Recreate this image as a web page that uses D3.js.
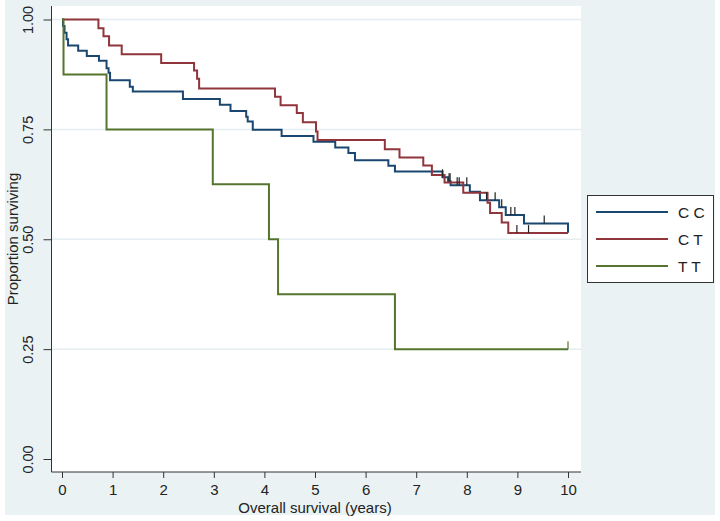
<!DOCTYPE html>
<html>
<head>
<meta charset="utf-8">
<script src="https://cdn.jsdelivr.net/npm/d3@7"></script>
<style>
  body { margin: 0; background: #fff; }
  svg { display: block; font-family: "Liberation Sans", Arial, sans-serif; }
</style>
</head>
<body>
<div id="chart"></div>
<script>
// Kaplan-Meier steps: event times (years) and survival after each event
const groups = ["C C", "C T", "T T"];
const colors = ["#1a476f", "#90353b", "#55752f"];

const ccTimes = [0.02, 0.05, 0.09, 0.12, 0.32, 0.49, 0.73, 0.88, 0.92, 0.95, 1.34, 1.40, 2.39, 3.12, 3.33,
                 3.64, 3.67, 3.77, 4.34, 4.97, 5.40, 5.66, 5.79, 6.45, 6.58, 7.52, 7.63, 7.68, 8.06, 8.26,
                 8.64, 8.77, 9.13, 10.0];
const ccSurv  = [0.985, 0.970, 0.955, 0.941, 0.929, 0.917, 0.906, 0.889, 0.879, 0.862, 0.847, 0.836, 0.819, 0.806, 0.792,
                 0.779, 0.768, 0.749, 0.735, 0.722, 0.709, 0.696, 0.680, 0.667, 0.654, 0.641, 0.632, 0.623, 0.608, 0.589,
                 0.573, 0.555, 0.536, 0.515];
const ctTimes = [0.72, 0.82, 0.93, 1.18, 1.96, 2.61, 2.67, 2.71, 4.21, 4.32, 4.64, 4.76, 5.02, 5.05, 6.38,
                 6.67, 7.14, 7.31, 7.56, 7.93, 8.41, 8.46, 8.69, 8.82];
const ctSurv  = [0.980, 0.962, 0.941, 0.921, 0.901, 0.884, 0.865, 0.843, 0.824, 0.805, 0.787, 0.766, 0.745, 0.726, 0.705,
                 0.686, 0.668, 0.646, 0.629, 0.606, 0.583, 0.560, 0.538, 0.514];
const ttTimes = [0.03, 0.88, 2.98, 4.09, 4.27, 6.58];
const ttSurv  = [0.875, 0.750, 0.625, 0.500, 0.375, 0.250];

const endTime = 10.0;

// censored observations (years)
const ccCensor = [7.52, 7.65, 7.67, 7.81, 7.85, 8.00, 8.39, 8.56, 8.69, 8.87, 8.95, 9.53];
const ctCensor = [8.99, 9.22];
const ttCensor = [10.0];

const xTicks = [0, 1, 2, 3, 4, 5, 6, 7, 8, 9, 10];
const yTicks = [0, 0.25, 0.5, 0.75, 1];
const yGrid = [0.25, 0.5, 0.75, 1];

const series = [
  { times: ccTimes, surv: ccSurv, censor: ccCensor },
  { times: ctTimes, surv: ctSurv, censor: ctCensor },
  { times: ttTimes, surv: ttSurv, censor: ttCensor }
];

const width = 720, height = 521;
const svg = d3.select("#chart").append("svg")
  .attr("width", width).attr("height", height);

// outer graph region
svg.append("rect").attr("x", 5).attr("y", 0).attr("width", 710).attr("height", 515)
  .attr("fill", "#eaf2f3");
// plot region
svg.append("rect").attr("x", 52).attr("y", 6).attr("width", 529).attr("height", 466)
  .attr("fill", "#fff");

const x = d3.scaleLinear().domain([0, 10]).range([62, 568]);
const y = d3.scaleLinear().domain([0, 1]).range([459, 19.5]);

// gridlines
svg.selectAll(".grid").data(yGrid).enter().append("line")
  .attr("x1", 52).attr("x2", 581)
  .attr("y1", d => y(d)).attr("y2", d => y(d))
  .attr("stroke", "#e4eef1").attr("stroke-width", 1.5);

// axes
const xAxis = svg.append("g").attr("transform", "translate(0,472)")
  .call(d3.axisBottom(x).tickValues(xTicks).tickSize(6).tickPadding(6).tickFormat(d3.format("d")));
xAxis.select(".domain").attr("d", "M51.5,0H581");
const yAxis = svg.append("g").attr("transform", "translate(51.5,0)")
  .call(d3.axisLeft(y).tickValues(yTicks).tickSize(8).tickFormat(d3.format(".2f")));
yAxis.select(".domain").attr("d", "M0,6V472");
svg.selectAll(".domain, .tick line").attr("stroke", "#333");
xAxis.selectAll("text").attr("font-size", 15).attr("fill", "#222");
yAxis.selectAll("text")
  .attr("font-size", 14.5).attr("fill", "#222")
  .attr("text-anchor", "middle")
  .attr("transform", "rotate(-90)")
  .attr("x", 0).attr("y", -0).attr("dy", 0)
  .each(function(d) {
    d3.select(this).attr("transform", `translate(-18.5,0) rotate(-90)`);
  });

// titles
svg.append("text").attr("x", 315).attr("y", 513).attr("text-anchor", "middle")
  .attr("font-size", 15).attr("fill", "#222").text("Overall survival (years)");
svg.append("text").attr("transform", "translate(18,239) rotate(-90)").attr("text-anchor", "middle")
  .attr("font-size", 15).attr("fill", "#222").text("Proportion surviving");

// survival curves
const line = d3.line().x(d => x(d[0])).y(d => y(d[1])).curve(d3.curveStepAfter);
function stepAt(s, t) {
  let v = 1;
  s.times.forEach((tt, i) => { if (tt <= t) v = s.surv[i]; });
  return v;
}
series.forEach((s, i) => {
  const pts = [[0, 1]].concat(s.times.map((t, j) => [t, s.surv[j]]));
  if (pts[pts.length - 1][0] < endTime) pts.push([endTime, pts[pts.length - 1][1]]);
  svg.append("path").datum(pts).attr("d", line)
    .attr("fill", "none").attr("stroke", colors[i]).attr("stroke-width", 2);
});
// censor marks
series.forEach((s, i) => {
  svg.selectAll(null).data(s.censor).enter().append("line")
    .attr("x1", d => x(d)).attr("x2", d => x(d))
    .attr("y1", d => y(stepAt(s, d))).attr("y2", d => y(stepAt(s, d)) - 8)
    .attr("stroke", i === 2 ? colors[2] : "#222").attr("stroke-width", 1.2);
});

// legend
const lg = svg.append("g");
lg.append("rect").attr("x", 587.5).attr("y", 195.5).attr("width", 126).attr("height", 87)
  .attr("fill", "#fff").attr("stroke", "#333").attr("stroke-width", 1);
groups.forEach((g, i) => {
  const ly = 212 + i * 27;
  lg.append("line").attr("x1", 596).attr("x2", 668).attr("y1", ly).attr("y2", ly)
    .attr("stroke", colors[i]).attr("stroke-width", 2);
  lg.append("text").attr("x", 678).attr("y", ly + 5.5).attr("font-size", 15.5)
    .attr("fill", "#222").text(g);
});
</script>
</body>
</html>
